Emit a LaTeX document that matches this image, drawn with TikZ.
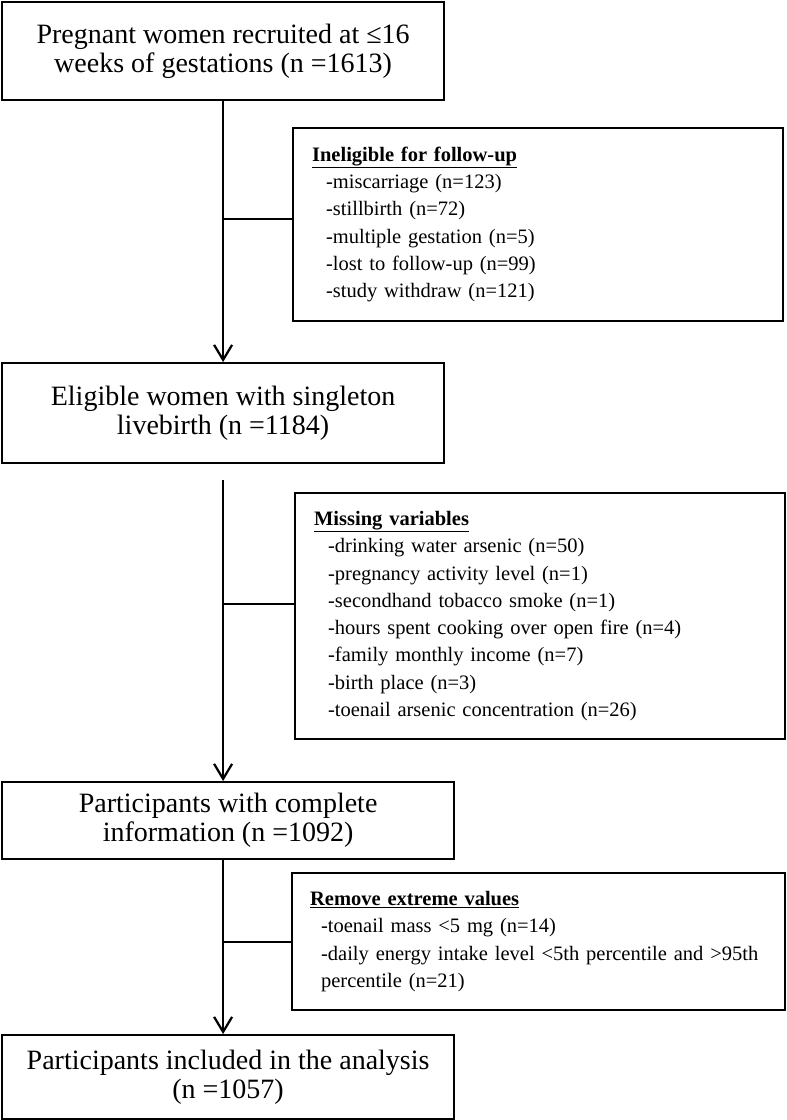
\documentclass[tikz,border=0pt]{standalone}
\usepackage{fontspec}
\setmainfont{Liberation Serif}
\usetikzlibrary{arrows.meta}
\tikzset{
  mainbox/.style={draw, line width=2.2pt, align=center, font=\fontsize{28}{29}\selectfont, inner sep=0pt, anchor=north west},
  sidebox/.style={draw, line width=2.2pt, align=left, font=\fontsize{20.5}{27.3}\selectfont, inner xsep=19pt, inner ysep=0pt, anchor=north west},
  flow/.style={line width=2.2pt, -{Straight Barb[length=15pt,width=18pt,line width=2.2pt]}},
  branch/.style={line width=2.2pt}
}
\newcommand{\itm}{\hspace*{14pt}}
\begin{document}
\begin{tikzpicture}[x=1pt,y=-1pt]
\useasboundingbox (0,0) rectangle (787,1120);
\node[mainbox, minimum width=442pt, minimum height=98pt] (b1) at (1,1)
  {Pregnant women recruited at ≤16\\weeks of gestations (n =1613)};
\node[sidebox, text width=452pt, minimum height=193pt] (inel) at (292,127)
  {\underline{\textbf{Ineligible for follow-up}}\\
   \itm-miscarriage (n=123)\\
   \itm-stillbirth (n=72)\\
   \itm-multiple gestation (n=5)\\
   \itm-lost to follow-up (n=99)\\
   \itm-study withdraw (n=121)};
\node[mainbox, minimum width=442pt, minimum height=100pt] (b2) at (1,362)
  {Eligible women with singleton\\livebirth (n =1184)};
\node[sidebox, text width=452pt, minimum height=246pt] (miss) at (294,492)
  {\underline{\textbf{Missing variables}}\\
   \itm-drinking water arsenic (n=50)\\
   \itm-pregnancy activity level (n=1)\\
   \itm-secondhand tobacco smoke (n=1)\\
   \itm-hours spent cooking over open fire (n=4)\\
   \itm-family monthly income (n=7)\\
   \itm-birth place (n=3)\\
   \itm-toenail arsenic concentration (n=26)};
\node[mainbox, minimum width=452pt, minimum height=77pt] (b3) at (1,781)
  {Participants with complete\\information (n =1092)};
\node[sidebox, inner xsep=18pt, text width=457pt, minimum height=137pt] (rem) at (291,872)
  {\underline{\textbf{Remove extreme values}}\\
   \hspace*{11pt}-toenail mass <5 mg (n=14)\\
   \hspace*{11pt}-daily energy intake level <5th percentile and >95th\\
   \hspace*{11pt}percentile (n=21)};
\node[mainbox, minimum width=452pt, minimum height=84pt] (b4) at (1,1034)
  {Participants included in the analysis\\(n =1057)};
\coordinate (j1) at ([yshift=6pt]inel.west);
\coordinate (j2) at ([yshift=12pt]miss.west);
\draw[flow] (b1.south) -- (b2.north);
\draw[branch] (j1) -- (b1.south |- j1);
\draw[flow] ([yshift=-16pt]b2.south) -- (b3.north -| b2.south);
\draw[branch] (j2) -- (b2.south |- j2);
\draw[flow] (b3.south -| b1.south) -- (b4.north -| b1.south);
\draw[branch] (rem.west) -- (b1.south |- rem.west);
\end{tikzpicture}
\end{document}
